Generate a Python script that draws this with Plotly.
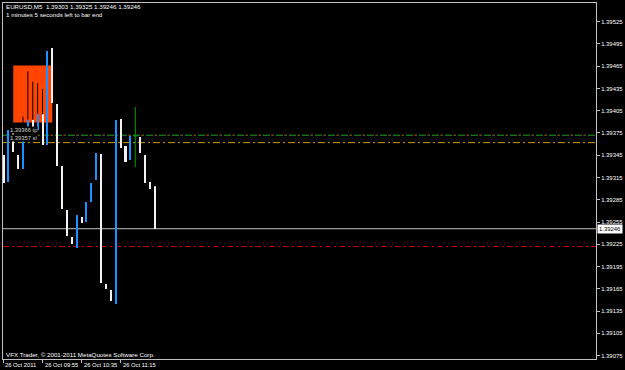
import plotly.graph_objects as go
import datetime as _dt

# ---------------- data ----------------
times = ["2011-10-26 09:15", "2011-10-26 09:20", "2011-10-26 09:25", "2011-10-26 09:30",
         "2011-10-26 09:35", "2011-10-26 09:40", "2011-10-26 09:45", "2011-10-26 09:50",
         "2011-10-26 09:55", "2011-10-26 10:00", "2011-10-26 10:05", "2011-10-26 10:10",
         "2011-10-26 10:15", "2011-10-26 10:20", "2011-10-26 10:25", "2011-10-26 10:30",
         "2011-10-26 10:35", "2011-10-26 10:40", "2011-10-26 10:45", "2011-10-26 10:50",
         "2011-10-26 10:55", "2011-10-26 11:00", "2011-10-26 11:05", "2011-10-26 11:10",
         "2011-10-26 11:15", "2011-10-26 11:20", "2011-10-26 11:25", "2011-10-26 11:30",
         "2011-10-26 11:35", "2011-10-26 11:40", "2011-10-26 11:45", "2011-10-26 11:50"]
opens = [1.39346, 1.39309, 1.39380, 1.39345, 1.39327, 1.39382, 1.39393, 1.39379,
         1.39400, 1.39359, 1.39490, 1.39414, 1.39330, 1.39271, 1.39235, 1.39220,
         1.39262, 1.39255, 1.39282, 1.39311, 1.39347, 1.39172, 1.39163, 1.39145,
         1.39394, 1.39357, 1.39339, 1.39371, 1.39369, 1.39346, 1.39309, 1.39303]
closes = [1.39307, 1.39379, 1.39350, 1.39327, 1.39371, 1.39393, 1.39380, 1.39401,
          1.39359, 1.39485, 1.39415, 1.39330, 1.39272, 1.39236, 1.39225, 1.39265,
          1.39254, 1.39282, 1.39308, 1.39348, 1.39173, 1.39165, 1.39148, 1.39392,
          1.39355, 1.39336, 1.39371, 1.39371, 1.39348, 1.39307, 1.39300, 1.39246]
highs = [1.39346, 1.39379, 1.39380, 1.39345, 1.39397, 1.39458, 1.39444, 1.39442,
         1.39434, 1.39485, 1.39490, 1.39414, 1.39330, 1.39271, 1.39235, 1.39265,
         1.39262, 1.39282, 1.39308, 1.39348, 1.39347, 1.39172, 1.39163, 1.39392,
         1.39394, 1.39357, 1.39371, 1.39410, 1.39369, 1.39346, 1.39309, 1.39325]
lows = [1.39307, 1.39309, 1.39350, 1.39327, 1.39327, 1.39382, 1.39380, 1.39379,
        1.39359, 1.39359, 1.39415, 1.39330, 1.39272, 1.39236, 1.39225, 1.39220,
        1.39254, 1.39255, 1.39282, 1.39311, 1.39173, 1.39165, 1.39148, 1.39145,
        1.39355, 1.39336, 1.39339, 1.39329, 1.39348, 1.39307, 1.39300, 1.39246]

symbol = "EURUSD,M5"
timer_text = "1 minutes 5 seconds left to bar end"
copyright_text = "VFX Trader, \u00a9 2001-2011 MetaQuotes Software Corp."

rect_times = ["2011-10-26 09:25", "2011-10-26 10:05"]
rect_prices = [1.39389, 1.39466]

level_green = 1.39372
level_orange = 1.39362
level_red = 1.39222
level_labels = ["1.39366 tp", "1.39357 sl"]
current_price = 1.39246

y_ticks = [1.39075, 1.39105, 1.39135, 1.39165, 1.39195, 1.39225, 1.39255, 1.39285,
           1.39315, 1.39345, 1.39375, 1.39405, 1.39435, 1.39465, 1.39495, 1.39525]
x_tick_times = ["2011-10-26 09:15", "2011-10-26 09:55", "2011-10-26 10:35", "2011-10-26 11:15"]
x_tick_labels = ["26 Oct 2011", "26 Oct 09:55", "26 Oct 10:35", "26 Oct 11:15"]

x_range = ["2011-10-26 09:14:30", "2011-10-26 19:22:00"]
y_range = [1.390705, 1.395501]

# ---------------- layout helpers ----------------
W, H = 625, 370
PL, PR, PT, PB = 2, 601, 2, 359
def px_x(x):
    return (x - PL) / (PR - PL)
def px_y(y):
    return (PB - y) / (PB - PT)

BULL = "#1e90ff"
BEAR = "#f2f2f2"
DOJI = "#00a000"
AX = "#c0c0c0"
FONT = "Liberation Sans, Arial, sans-serif"

# ---------------- traces ----------------
body_base, body_h, colors = [], [], []
for o, c in zip(opens, closes):
    body_base.append(min(o, c))
    body_h.append(abs(c - o))
    colors.append(BULL if c > o else (BEAR if c < o else DOJI))

fig = go.Figure()
fig.add_trace(go.Bar(x=times, y=body_h, base=body_base, width=125000,
                     marker=dict(color=colors, line=dict(width=0)),
                     hoverinfo="skip", showlegend=False))

# wicks (black, only visible on the rectangle) and doji in line colour
wx, wy, dx, dy = [], [], [], []
for t, o, c, h, l in zip(times, opens, closes, highs, lows):
    top, bot = max(o, c), min(o, c)
    if o == c:
        dx += [t, t, None]
        dy += [h, l, None]
        tt = _dt.datetime.strptime(t, "%Y-%m-%d %H:%M")
        dx += [tt - _dt.timedelta(minutes=2), tt + _dt.timedelta(minutes=2), None]
        dy += [o, o, None]
    else:
        if h > top:
            wx += [t, t, None]; wy += [top, h, None]
        if l < bot:
            wx += [t, t, None]; wy += [bot, l, None]
fig.add_trace(go.Scatter(x=wx, y=wy, mode="lines", line=dict(color="#000000", width=1),
                         hoverinfo="skip", showlegend=False))
fig.add_trace(go.Scatter(x=dx, y=dy, mode="lines", line=dict(color=DOJI, width=1),
                         hoverinfo="skip", showlegend=False))

# ---------------- shapes ----------------
shapes = []
shapes.append(dict(type="rect", xref="x", yref="y", x0=rect_times[0], x1=rect_times[1],
                   y0=rect_prices[0], y1=rect_prices[1], fillcolor="#ff4500",
                   line=dict(width=0), layer="below"))
def hline(y, color, dash, width=1):
    return dict(type="line", xref="paper", yref="y", x0=0, x1=1, y0=y, y1=y,
                line=dict(color=color, width=width, dash=dash), layer="below")
shapes.append(hline(level_green, "#22a022", "7px,2px,2px,2px"))
shapes.append(hline(level_green, "#b02000", "0px,8px,2px,3px"))
shapes.append(hline(level_orange, "#d09a00", "7px,3px,2px,3px"))
shapes.append(hline(level_red, "#c00000", "6px,3px,2px,3px"))
shapes.append(hline(current_price, AX, "solid"))

# ---------------- annotations ----------------
ann = []
last = len(closes) - 1
header = f"{symbol}  {opens[last]:.5f} {highs[last]:.5f} {lows[last]:.5f} {closes[last]:.5f}"
ann.append(dict(text=header, xref="paper", yref="paper", x=px_x(3), y=px_y(6),
                xanchor="left", yanchor="middle", showarrow=False,
                font=dict(family=FONT, size=6.2, color="#ffffff")))
ann.append(dict(text=timer_text, xref="paper", yref="paper", x=px_x(3), y=px_y(13.5),
                xanchor="left", yanchor="middle", showarrow=False,
                font=dict(family=FONT, size=6.2, color="#ffffff")))
ann.append(dict(text=copyright_text, xref="paper", yref="paper", x=px_x(3), y=px_y(354.5),
                xanchor="left", yanchor="middle", showarrow=False,
                font=dict(family=FONT, size=6.2, color="#ffffff")))
for lab, ypx in zip(level_labels, [129.5, 137]):
    ann.append(dict(text=lab, xref="paper", yref="paper", x=px_x(8), y=px_y(ypx),
                    xanchor="left", yanchor="middle", showarrow=False, bgcolor="#000000",
                    borderpad=0, font=dict(family=FONT, size=5.8, color="#d0d0d0")))
for t, lab in zip(x_tick_times, x_tick_labels):
    ann.append(dict(text=lab, xref="x", yref="paper", x=t, y=px_y(365),
                    xanchor="left", yanchor="middle", showarrow=False,
                    font=dict(family=FONT, size=5.8, color="#ffffff")))
ann.append(dict(text=f"{current_price:.5f}", xref="paper", yref="y", x=1, y=current_price,
                xanchor="left", yanchor="middle", xshift=1, showarrow=False,
                bgcolor="#ffffff", borderpad=1,
                font=dict(family=FONT, size=5.9, color="#000000")))

fig.update_layout(
    width=W, height=H, autosize=False,
    margin=dict(l=PL, r=W - PR, t=PT, b=H - PB, pad=0),
    paper_bgcolor="#000000", plot_bgcolor="#000000",
    showlegend=False, bargap=0,
    shapes=shapes, annotations=ann,
    xaxis=dict(type="date", range=x_range, showgrid=False, zeroline=False,
               showline=True, linecolor=AX, linewidth=1, mirror=True,
               tickmode="array", tickvals=x_tick_times, ticktext=[""] * len(x_tick_times),
               ticks="outside", ticklen=3, tickcolor=AX, tickwidth=1,
               fixedrange=True),
    yaxis=dict(range=y_range, side="right", showgrid=False, zeroline=False,
               showline=True, linecolor=AX, linewidth=1, mirror=True,
               tickmode="array", tickvals=y_ticks, ticktext=[f"{v:.5f}" for v in y_ticks],
               ticks="outside", ticklen=3, tickcolor=AX, tickwidth=1,
               tickfont=dict(family=FONT, size=5.9, color="#ffffff"),
               fixedrange=True),
)

fig.write_html("out.html", config={"displayModeBar": False})
